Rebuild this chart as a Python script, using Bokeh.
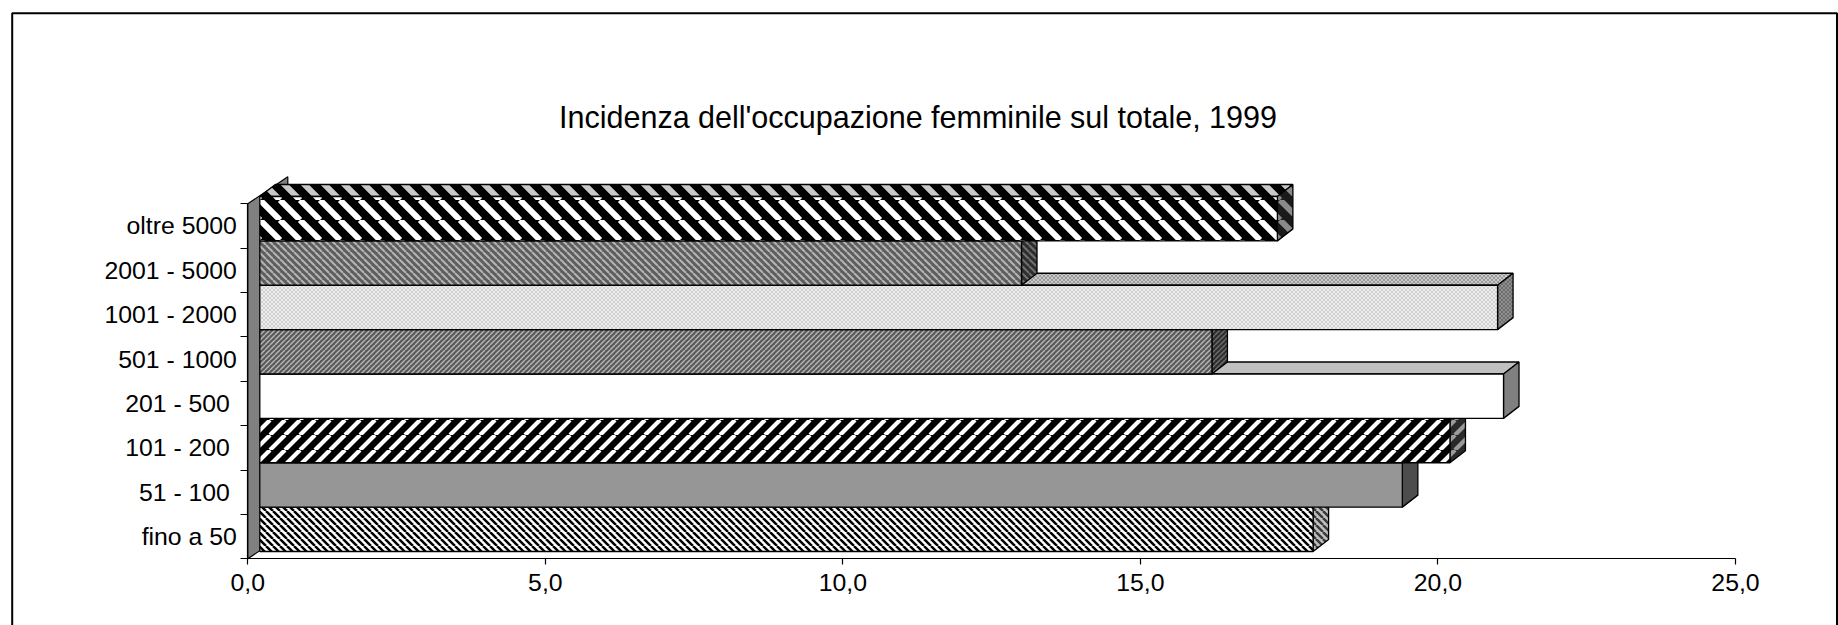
import base64
from bokeh.plotting import figure
from bokeh.models import (ColumnDataSource, FixedTicker, LinearAxis, Range1d,
                          BoxAnnotation, Label, ImageURLTexture)
from bokeh.core.properties import field
from bokeh.embed import file_html
from bokeh.resources import INLINE

# ---------------- data ----------------
categories = ["fino a 50", "51 -  100", "101 -  200", "201 -  500",
              "501 - 1000", "1001 - 2000", "2001 - 5000", "oltre 5000"]
values = [17.7, 19.2, 20.0, 20.9, 16.0, 20.8, 12.8, 17.1]
x_ticks = [0, 5, 10, 15, 20, 25]
x_tick_labels = ["0,0", "5,0", "10,0", "15,0", "20,0", "25,0"]
title_text = "Incidenza dell'occupazione femminile sul totale, 1999"

# ---------------- styles (per bar, bottom to top) ----------------
# stripe kind: "d" = down 45deg (\), "u" = up 45deg (/), "x" = fine checker, None = plain
stripe_kind = ["d", None, "u", None, "u", "x", "d", "d"]
stripe_period = [7, 0, 15, 0, 5, 4, 7, 20]
stripe_weight = [2.5, 0, 4.2, 0, 1.4, 1, 2.0, 6.0]
front_fill = ["#ffffff", "#969696", "#000000", "#ffffff", "#5a5a5a", "#ededed", "#5e5e5e", "#000000"]
front_scol = ["#000000", None, "#ffffff", None, "#b8b8b8", "#d0d0d0", "#b4b4b4", "#ffffff"]
side_fill = ["#bfbfbf", "#4d4d4d", "#2a2a2a", "#808080", "#2e2e2e", "#6e6e6e", "#2e2e2e", "#1a1a1a"]
side_scol = ["#3a3a3a", None, "#9a9a9a", None, "#6e6e6e", "#8e8e8e", "#707070", "#8a8a8a"]
top_fill = ["#e0e0e0", "#c0c0c0", "#404040", "#c0c0c0", "#8a8a8a", "#cacaca", "#8a8a8a", "#000000"]
top_scol = [None, None, None, None, None, "#9a9a9a", None, "#c8c8c8"]

FONT = "Liberation Sans"


def stripe_texture(kind, s, w, color):
    if kind == "d":
        d = f"M{-s},0 L0,{s} M0,0 L{s},{s} M{s},0 L{2*s},{s}"
    elif kind == "u":
        d = f"M{-s},{s} L0,0 M0,{s} L{s},0 M{s},{s} L{2*s},0"
    else:
        d = (f"M{-s},0 L0,{s} M0,0 L{s},{s} M{s},0 L{2*s},{s} "
             f"M{-s},{s} L0,0 M0,{s} L{s},0 M{s},{s} L{2*s},0")
    svg = (f"<svg xmlns='http://www.w3.org/2000/svg' width='{s}' height='{s}'>"
           f"<path d='{d}' stroke='{color}' stroke-width='{w}' fill='none'/></svg>")
    url = "data:image/svg+xml;base64," + base64.b64encode(svg.encode()).decode()
    return ImageURLTexture(url=url, repetition="repeat")


EXTRA = {}
front_pat, side_pat, top_pat = [], [], []
for i in range(len(stripe_kind)):
    k = stripe_kind[i]
    for face, cols, pats in (("f", front_scol, front_pat),
                             ("s", side_scol, side_pat),
                             ("t", top_scol, top_pat)):
        if k is None or cols[i] is None:
            pats.append(" ")
        else:
            name = f"{face}{i}"
            EXTRA[name] = stripe_texture(k, stripe_period[i], stripe_weight[i], cols[i])
            pats.append(name)

# ---------------- layout (pixels) ----------------
W, H = 1838, 625
AX_X0, AX_X1 = 247.3, 1735.0      # pixel of value 0 and 25
AX_Y0, AX_Y8 = 558.3, 203.3       # pixel (from top) of category boundary 0 and 8
sx = (AX_X1 - AX_X0) / 25.0
sy = (AX_Y0 - AX_Y8) / 8.0

FRONT_DX, FRONT_DY = 12.0, 7.3     # gap depth in front of the bars
BAR_DX, BAR_DY = 15.5, 12.0        # bar depth
WALL_DX, WALL_DY = 40.0, 27.0      # wall depth

ox, oy = FRONT_DX / sx, FRONT_DY / sy
bdx, bdy = BAR_DX / sx, BAR_DY / sy
wdx, wdy = WALL_DX / sx, WALL_DY / sy

p = figure(width=W, height=H, output_backend="svg", toolbar_location=None,
           x_range=Range1d(-AX_X0 / sx, (W - AX_X0) / sx),
           y_range=Range1d(-(H - AX_Y0) / sy, AX_Y0 / sy),
           x_axis_location=None, y_axis_location=None,
           min_border=0, outline_line_color=None)
p.grid.visible = False
p.background_fill_color = "white"
p.border_fill_color = "white"

# wall (left)
n = len(categories)
p.patch(x=[0, wdx, wdx, 0], y=[0, wdy, n + wdy, n],
        fill_color="#808080", line_color="black", line_width=1.2)

# faces
tops_x, tops_y, sides_x, sides_y = [], [], [], []
lefts, rights, bottoms, topsv = [], [], [], []
for i, v in enumerate(values):
    b = i + oy
    t = i + 1 + oy
    l = ox
    r = ox + v
    lefts.append(l); rights.append(r); bottoms.append(b); topsv.append(t)
    tops_x.append([l, r, r + bdx, l + bdx])
    tops_y.append([t, t, t + bdy, t + bdy])
    sides_x.append([r, r + bdx, r + bdx, r])
    sides_y.append([b, b + bdy, t + bdy, t])

src_faces = ColumnDataSource(dict(
    tx=tops_x, ty=tops_y, sx=sides_x, sy=sides_y,
    tp=top_pat, sp=side_pat, tf=top_fill, sf=side_fill))

p.patches(xs="tx", ys="ty", source=src_faces, fill_color=field("tf"),
          hatch_pattern=field("tp"), hatch_extra=EXTRA,
          line_color="black", line_width=1.3)
p.patches(xs="sx", ys="sy", source=src_faces, fill_color=field("sf"),
          hatch_pattern=field("sp"), hatch_extra=EXTRA,
          line_color="black", line_width=1.3)

src_front = ColumnDataSource(dict(
    l=lefts, r=rights, b=bottoms, t=topsv, cat=categories, val=values,
    fp=front_pat, ff=front_fill))
p.quad(left="l", right="r", bottom="b", top="t", source=src_front,
       fill_color=field("ff"), hatch_pattern=field("fp"), hatch_extra=EXTRA,
       line_color="black", line_width=1.3)

# axes
xaxis = LinearAxis(fixed_location=0, bounds=(0, 25),
                   ticker=FixedTicker(ticks=x_ticks),
                   major_label_overrides=dict(zip(x_ticks, x_tick_labels)),
                   axis_line_color="black", axis_line_width=1.2,
                   major_tick_out=6, major_tick_in=0,
                   major_tick_line_color="black", major_tick_line_width=1.2,
                   minor_tick_line_color=None,
                   major_label_standoff=9,
                   major_label_text_font=FONT,
                   major_label_text_font_size="24.8px",
                   major_label_text_color="black")
p.add_layout(xaxis, "below")

centers = [i + 0.5 for i in range(n)]
bounds_ticks = list(range(n + 1))
yaxis = LinearAxis(fixed_location=0, bounds=(0, n),
                   ticker=FixedTicker(ticks=centers, minor_ticks=bounds_ticks),
                   major_label_overrides=dict(zip(centers, categories)),
                   axis_line_color="black", axis_line_width=1.2,
                   major_tick_out=0, major_tick_in=0,
                   minor_tick_out=7, minor_tick_in=0,
                   minor_tick_line_color="black", minor_tick_line_width=1.2,
                   major_label_standoff=4,
                   major_label_text_font=FONT,
                   major_label_text_font_size="24.8px",
                   major_label_text_color="black")
p.add_layout(yaxis, "left")

# title
p.add_layout(Label(x=(917.5 - AX_X0) / sx, y=(AX_Y0 - 116.0) / sy,
                   text=title_text, text_align="center",
                   text_baseline="alphabetic", text_font=FONT,
                   text_font_size="30.5px", text_color="black"))

# chart area border (left, top, right)
p.add_layout(BoxAnnotation(left=(11.7 - AX_X0) / sx, right=(1836.5 - AX_X0) / sx,
                           top=(AX_Y0 - 12.7) / sy, bottom=-(H + 20 - AX_Y0) / sy,
                           fill_alpha=0, line_color="black", line_alpha=1.0,
                           line_width=2, propagate_hover=False, editable=False))

open("out.html", "w").write(file_html(p, INLINE))
